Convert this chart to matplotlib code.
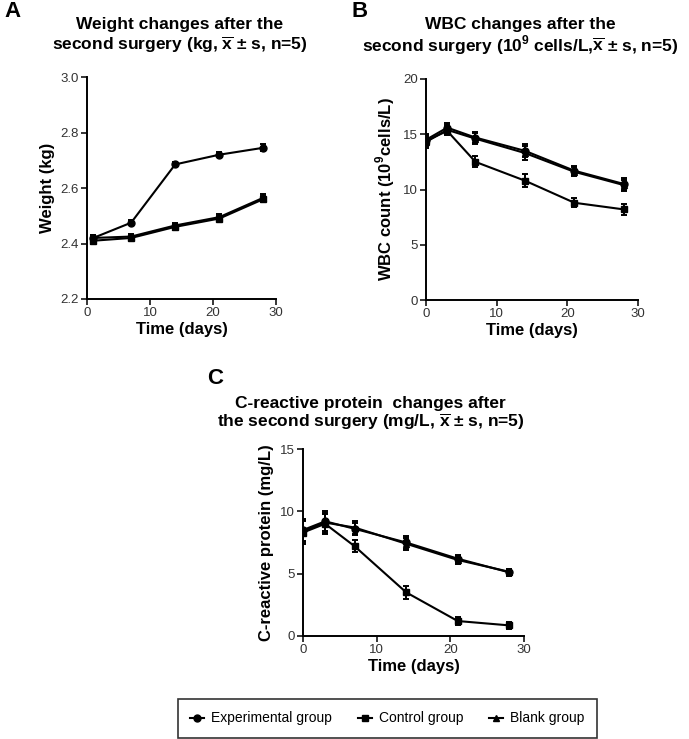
import matplotlib
matplotlib.use("Agg")
from matplotlib import pyplot as plt
from matplotlib.lines import Line2D

plt.rcParams['font.family'] = ['Liberation Sans', 'DejaVu Sans']
plt.rcParams['mathtext.fontset'] = 'custom'
plt.rcParams['mathtext.rm'] = 'Liberation Sans'
plt.rcParams['mathtext.bf'] = 'Liberation Sans:bold'

groups = ["Experimental group", "Control group", "Blank group"]
markers = ["o", "s", "^"]

# A: weight (kg)
days_a = [1, 7, 14, 21, 28]
weight_exp = [2.42, 2.475, 2.685, 2.72, 2.745]
weight_ctl = [2.41, 2.42, 2.46, 2.49, 2.56]
weight_blk = [2.42, 2.425, 2.465, 2.495, 2.565]
weight_err = [0.012, 0.008, 0.01, 0.01, 0.012]

# B: WBC (10^9 cells/L)
days_b = [0, 3, 7, 14, 21, 28]
wbc_exp = [14.5, 15.6, 14.7, 13.5, 11.7, 10.5]
wbc_ctl = [14.4, 15.3, 12.5, 10.8, 8.8, 8.2]
wbc_blk = [14.3, 15.4, 14.6, 13.3, 11.6, 10.4]
wbc_err = [0.5, 0.4, 0.5, 0.6, 0.4, 0.5]

# C: C-reactive protein (mg/L)
days_c = [0, 3, 7, 14, 21, 28]
crp_exp = [8.5, 9.2, 8.6, 7.5, 6.2, 5.1]
crp_ctl = [8.3, 9.0, 7.2, 3.5, 1.2, 0.85]
crp_blk = [8.4, 9.1, 8.7, 7.4, 6.1, 5.15]
crp_err = [0.9, 0.8, 0.5, 0.5, 0.3, 0.25]

fig = plt.figure(figsize=(6.89, 7.39), dpi=100)

ax_a = fig.add_axes([0.1263, 0.5954, 0.2743, 0.3004])
ax_b = fig.add_axes([0.6183, 0.5940, 0.3077, 0.2991])
ax_c = fig.add_axes([0.4398, 0.1394, 0.3208, 0.2530])


def draw(ax, x, series, err):
    for y, m in zip(series, markers):
        ax.errorbar(x, y, yerr=err, color="black", marker=m, markersize=5,
                    linewidth=1.5, elinewidth=1.4, capsize=2.5, capthick=1.4)
    for s in ["top", "right"]:
        ax.spines[s].set_visible(False)
    for s in ["left", "bottom"]:
        ax.spines[s].set_linewidth(1.4)
    ax.tick_params(direction="out", length=4, width=1.1, labelsize=9.5,
                   labelcolor="#333333", pad=2)
    ax.set_xlim(0, 30)
    ax.set_xticks([0, 10, 20, 30])
    ax.set_xlabel("Time (days)", fontsize=12, fontweight="bold", labelpad=2)


draw(ax_a, days_a, [weight_exp, weight_ctl, weight_blk], weight_err)
ax_a.set_ylim(2.2, 3.0)
ax_a.set_yticks([2.2, 2.4, 2.6, 2.8, 3.0])
ax_a.set_ylabel("Weight (kg)", fontsize=12, fontweight="bold", labelpad=4)

draw(ax_b, days_b, [wbc_exp, wbc_ctl, wbc_blk], wbc_err)
ax_b.set_ylim(0, 20)
ax_b.set_yticks([0, 5, 10, 15, 20])
ax_b.set_ylabel(r"WBC count (10$^{\mathbf{9}}$cells/L)", fontsize=12,
                fontweight="bold", labelpad=4)

draw(ax_c, days_c, [crp_exp, crp_ctl, crp_blk], crp_err)
ax_c.set_ylim(0, 15)
ax_c.set_yticks([0, 5, 10, 15])
ax_c.set_ylabel("C-reactive protein (mg/L)", fontsize=12, fontweight="bold",
                labelpad=4)

xbar = r"$\overline{\mathbf{x}}$"
titles = [
    (0.261, 25, 45, "Weight changes after the",
     "second surgery (kg, " + xbar + " ± s, n=5)"),
    (0.755, 25, 45, "WBC changes after the",
     "second surgery (10$^{\\mathbf{9}}$ cells/L," + xbar + " ± s, n=5)"),
    (0.538, 403, 422, "C-reactive protein  changes after",
     "the second surgery (mg/L, " + xbar + " ± s, n=5)"),
]
for xc, y1, y2, l1, l2 in titles:
    fig.text(xc, 1 - y1 / 739, l1, ha="center", va="center", fontsize=12.5,
             fontweight="bold")
    fig.text(xc, 1 - y2 / 739, l2, ha="center", va="center", fontsize=12.5,
             fontweight="bold")

fig.text(0.006, 0.998, "A", ha="left", va="top", fontsize=16, fontweight="bold")
fig.text(0.510, 0.998, "B", ha="left", va="top", fontsize=16, fontweight="bold")
fig.text(0.300, 1 - 368 / 739, "C", ha="left", va="top", fontsize=16,
         fontweight="bold")

handles = [Line2D([], [], color="black", marker=m, markersize=5, linewidth=1.5)
           for m in markers]
leg = fig.legend(handles, groups, loc="lower left", ncol=3, mode="expand",
                 bbox_to_anchor=(0.2583, 0.0014, 0.6081, 0.0609),
                 fontsize=10, frameon=True, fancybox=False, handlelength=1.0,
                 handletextpad=0.5, borderaxespad=0, borderpad=0.9)
leg.get_frame().set_edgecolor("black")
leg.get_frame().set_linewidth(1.2)

fig.savefig("out.png", dpi=100)
